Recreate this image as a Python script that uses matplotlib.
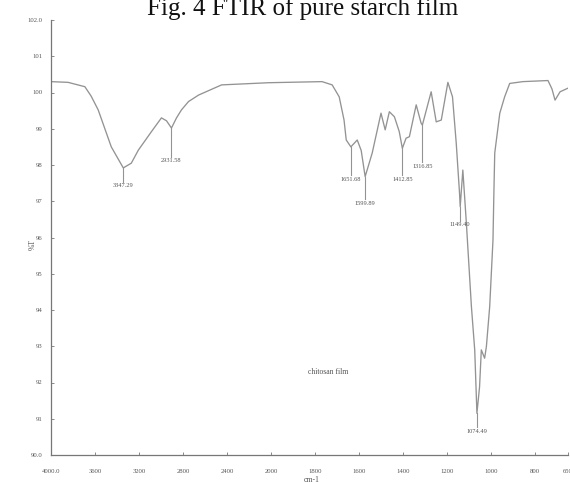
import numpy as np
import matplotlib
matplotlib.use("Agg")
import matplotlib.pyplot as plt

# ---- data -------------------------------------------------------------
wavenumber = [4000, 3845, 3692, 3635, 3571, 3452, 3343, 3270, 3206, 3087,
              2996, 2950, 2905, 2859, 2814, 2750, 2658, 2449, 2020, 1768,
              1722, 1690, 1668, 1658, 1637, 1608, 1590, 1572, 1540, 1500,
              1481, 1462, 1439, 1417, 1403, 1386, 1371, 1340, 1318, 1312,
              1272, 1249, 1226, 1196, 1175, 1158, 1143, 1140, 1128, 1112,
              1089, 1074, 1064, 1052, 1044, 1029, 1021, 1006, 991, 987,
              983, 960, 938, 915, 855, 741, 723, 709, 686, 650]
transmittance = [100.30, 100.28, 100.16, 99.90, 99.52, 98.50, 97.92, 98.05, 98.41, 98.92,
                 99.30, 99.22, 99.02, 99.30, 99.52, 99.75, 99.93, 100.21, 100.27, 100.30,
                 100.21, 99.88, 99.24, 98.69, 98.50, 98.69, 98.40, 97.68, 98.33, 99.43,
                 98.97, 99.47, 99.33, 98.92, 98.46, 98.74, 98.78, 99.66, 99.16, 99.10,
                 100.02, 99.19, 99.24, 100.28, 99.88, 98.60, 97.22, 96.85, 97.86, 96.40,
                 94.09, 92.90, 91.15, 91.88, 92.90, 92.67, 92.99, 94.09, 95.93, 97.20,
                 98.33, 99.43, 99.88, 100.25, 100.30, 100.33, 100.10, 99.79, 100.02, 100.12]

peak_wn = [3343, 2905, 1637, 1572, 1403, 1312, 1140, 1064]
peak_T = [97.92, 99.02, 98.50, 97.68, 98.46, 99.10, 96.85, 91.15]
peak_line_end = [97.53, 98.22, 97.72, 97.06, 97.72, 98.08, 96.46, 90.77]
peak_labels = ["3347.29", "2931.58", "1651.68", "1599.89", "1412.85", "1316.85",
               "1149.40", "1074.49"]

x_ticks = [4000, 3600, 3200, 2800, 2400, 2000, 1800, 1600, 1400, 1200, 1000, 800, 650]
x_tick_labels = ["4000.0", "3600", "3200", "2800", "2400", "2000", "1800", "1600",
                 "1400", "1200", "1000", "800", "650"]
y_ticks = [90, 91, 92, 93, 94, 95, 96, 97, 98, 99, 100, 101, 102]
y_tick_labels = ["90.0", "91", "92", "93", "94", "95", "96", "97", "98", "99",
                 "100", "101", "102.0"]

title = "Fig. 4 FTIR of pure starch film"
sample_label = "chitosan film"

# ---- scale: 400 cm-1/div above 2000, 200 cm-1/div below ----------------
def fwd(x):
    x = np.asarray(x, dtype=float)
    return np.where(x >= 2000, x / 400.0, 5.0 + (x - 2000.0) / 200.0)

def inv(u):
    u = np.asarray(u, dtype=float)
    return np.where(u >= 5, u * 400.0, 2000.0 + (u - 5.0) * 200.0)

W, H = 570, 482
fig = plt.figure(figsize=(W / 100, H / 100), dpi=100)
ax = fig.add_axes([51 / W, 1 - 455 / H, (568 - 51) / W, (455 - 20) / H])
ax.set_xscale("function", functions=(fwd, inv))
ax.set_xlim(4000, 650)
ax.set_ylim(90, 102)

ax.plot(wavenumber, transmittance, color="#939393", lw=0.95)

txtc = "#555555"
for wn, t, te, lab in zip(peak_wn, peak_T, peak_line_end, peak_labels):
    ax.plot([wn, wn], [t, te], color="#939393", lw=0.8)
    ax.text(wn, te - 0.04, lab, ha="center", va="top", fontsize=4.6,
            color=txtc, family="Liberation Serif")

ax.text(1830, 92.3, sample_label, ha="left", va="center", fontsize=5.5,
        color=txtc, family="Liberation Serif")

for s in ["top", "right"]:
    ax.spines[s].set_visible(False)
for s in ["left", "bottom"]:
    ax.spines[s].set_color("#777777")
    ax.spines[s].set_linewidth(0.9)

ax.set_xticks(x_ticks)
ax.set_xticklabels(x_tick_labels)
ax.set_yticks(y_ticks)
ax.set_yticklabels(y_tick_labels)
ax.minorticks_off()
ax.tick_params(axis="both", direction="in", length=2, width=0.6,
               colors="#777777", labelcolor=txtc, labelsize=4.8)
ax.tick_params(axis="x", pad=10)
ax.tick_params(axis="y", pad=6)
for lab in ax.get_xticklabels() + ax.get_yticklabels():
    lab.set_family("Liberation Serif")

fig.text(33 / W, 1 - 245 / H, "%T", rotation=90, ha="center", va="center",
         fontsize=5.5, color=txtc, family="Liberation Serif")
fig.text(312 / W, 1 - 480 / H, "cm-1", ha="center", va="center",
         fontsize=5.5, color=txtc, family="Liberation Serif")

fig.text(147 / W, 1 - 15 / H, title, ha="left", va="baseline", fontsize=18,
         color="#111111", family="Liberation Serif")

fig.savefig("out.png", dpi=100)
